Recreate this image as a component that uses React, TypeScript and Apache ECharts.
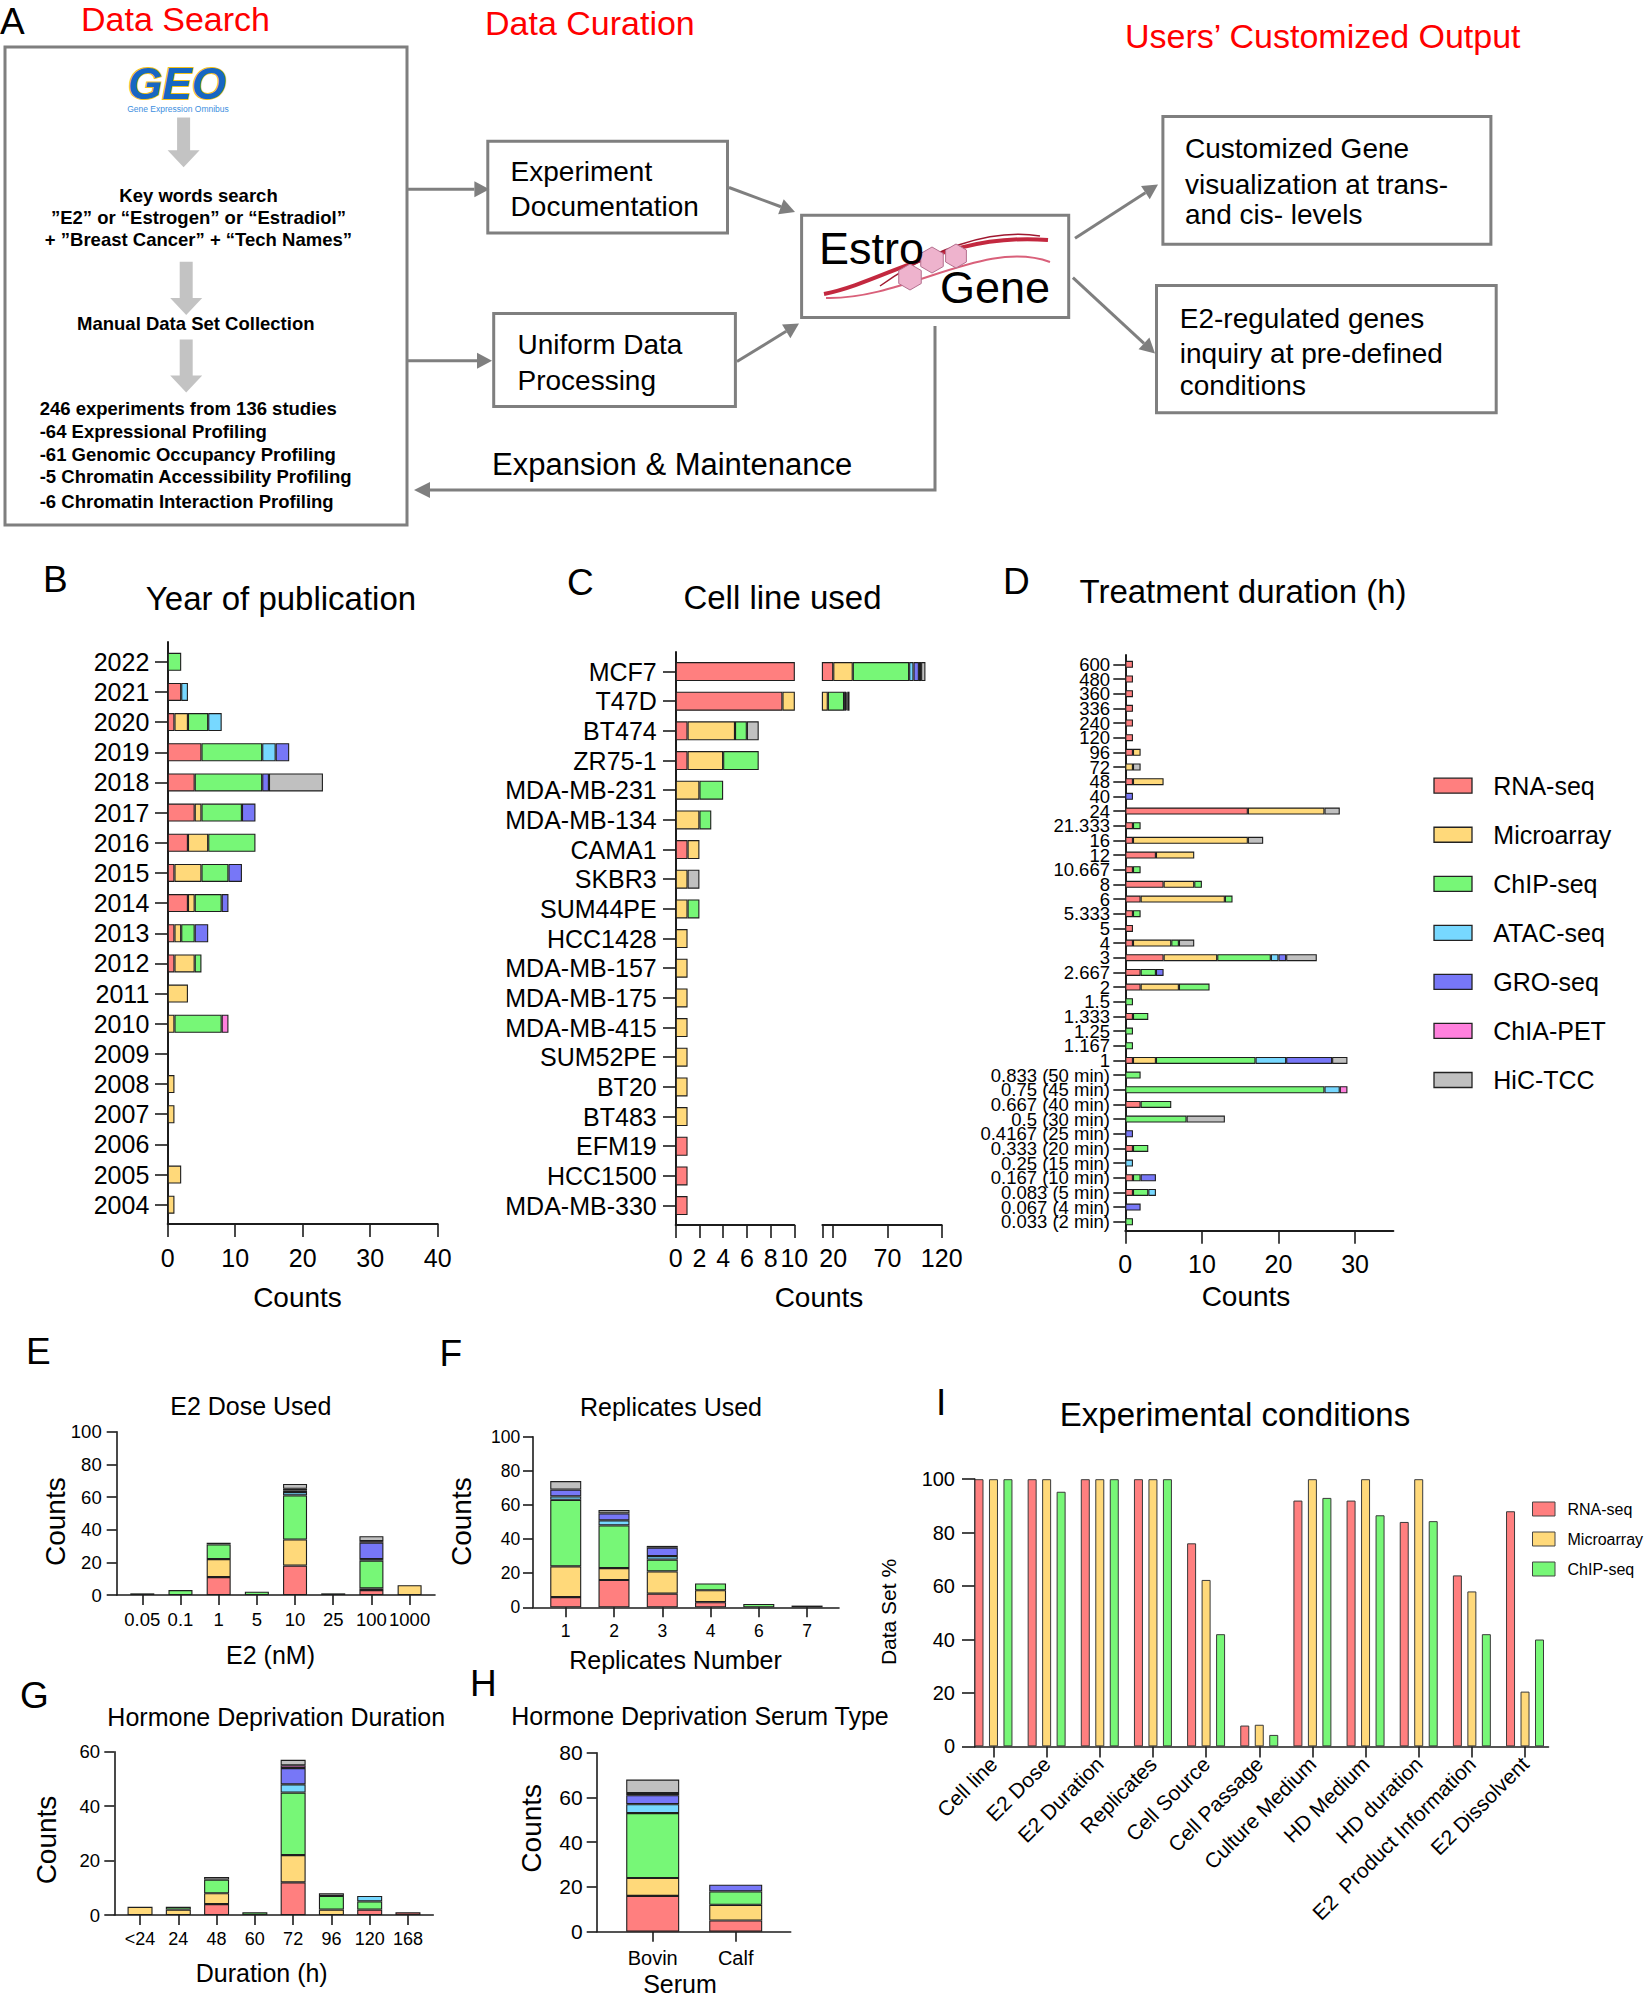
import React, { useEffect, useRef } from 'react';
import * as echarts from 'echarts';

const FONT = '"Liberation Sans", Arial, Helvetica, sans-serif';
const AX = '#1c1c1c';

const techNames = ['RNA-seq', 'Microarray', 'ChIP-seq', 'ATAC-seq', 'GRO-seq', 'ChIA-PET', 'HiC-TCC'];
const techColors = ['#FF7F7F', '#FFD97A', '#77F777', '#77D8FF', '#7777F7', '#FF80DD', '#C0C0C0'];

// ---------- Panel B: year of publication ----------
const pubYears = ['2022', '2021', '2020', '2019', '2018', '2017', '2016', '2015', '2014', '2013', '2012', '2011', '2010', '2009', '2008', '2007', '2006', '2005', '2004'];
const yearRNA = [0, 2, 1, 5, 4, 4, 3, 1, 3, 1, 1, 0, 0, 0, 0, 0, 0, 0, 0];
const yearMicro = [0, 0, 2, 0, 0, 1, 3, 4, 1, 1, 3, 3, 1, 0, 1, 1, 0, 2, 1];
const yearChIP = [2, 0, 3, 9, 10, 6, 7, 4, 4, 2, 1, 0, 7, 0, 0, 0, 0, 0, 0];
const yearATAC = [0, 1, 2, 2, 0, 0, 0, 0, 0, 0, 0, 0, 0, 0, 0, 0, 0, 0, 0];
const yearGRO = [0, 0, 0, 2, 1, 2, 0, 2, 1, 2, 0, 0, 0, 0, 0, 0, 0, 0, 0];
const yearChIA = [0, 0, 0, 0, 0, 0, 0, 0, 0, 0, 0, 0, 1, 0, 0, 0, 0, 0, 0];
const yearHiC = [0, 0, 0, 0, 8, 0, 0, 0, 0, 0, 0, 0, 0, 0, 0, 0, 0, 0, 0];

// ---------- Panel C: cell line used ----------
const cellLines = ['MCF7', 'T47D', 'BT474', 'ZR75-1', 'MDA-MB-231', 'MDA-MB-134', 'CAMA1', 'SKBR3', 'SUM44PE', 'HCC1428', 'MDA-MB-157', 'MDA-MB-175', 'MDA-MB-415', 'SUM52PE', 'BT20', 'BT483', 'EFM19', 'HCC1500', 'MDA-MB-330'];
const cellRNA = [20, 9, 1, 1, 0, 0, 1, 0, 0, 0, 0, 0, 0, 0, 0, 0, 1, 1, 1];
const cellMicro = [18, 6, 4, 3, 2, 2, 1, 1, 1, 1, 1, 1, 1, 1, 1, 1, 0, 0, 0];
const cellChIP = [52, 15, 1, 3, 2, 1, 0, 0, 1, 0, 0, 0, 0, 0, 0, 0, 0, 0, 0];
const cellATAC = [4, 0, 0, 0, 0, 0, 0, 0, 0, 0, 0, 0, 0, 0, 0, 0, 0, 0, 0];
const cellGRO = [5, 2, 0, 0, 0, 0, 0, 0, 0, 0, 0, 0, 0, 0, 0, 0, 0, 0, 0];
const cellChIA = [2, 1, 0, 0, 0, 0, 0, 0, 0, 0, 0, 0, 0, 0, 0, 0, 0, 0, 0];
const cellHiC = [4, 2, 1, 0, 0, 0, 0, 1, 0, 0, 0, 0, 0, 0, 0, 0, 0, 0, 0];
const cellLeftTicks = [0, 2, 4, 6, 8, 10];
const cellRightTicks = [20, 70, 120];

// ---------- Panel D: treatment duration ----------
const durations = ['600', '480', '360', '336', '240', '120', '96', '72', '48', '40',
  '24', '21.333', '16', '12', '10.667', '8', '6', '5.333', '5', '4',
  '3', '2.667', '2', '1.5', '1.333', '1.25', '1.167', '1', '0.833 (50 min)', '0.75 (45 min)',
  '0.667 (40 min)', '0.5 (30 min)', '0.4167 (25 min)', '0.333 (20 min)', '0.25 (15 min)', '0.167 (10 min)', '0.083 (5 min)', '0.067 (4 min)', '0.033 (2 min)'];
const durRNA = [1, 1, 1, 1, 1, 1, 1, 0, 1, 0, 16, 1, 1, 4, 1, 5, 2, 1, 1, 1, 5, 2, 2, 0, 1, 0, 0, 1, 0, 0, 2, 0, 0, 1, 0, 1, 1, 0, 0];
const durMicro = [0, 0, 0, 0, 0, 0, 1, 1, 4, 0, 10, 0, 15, 5, 0, 4, 11, 0, 0, 5, 7, 0, 5, 0, 0, 0, 0, 3, 0, 0, 0, 0, 0, 0, 0, 0, 0, 0, 0];
const durChIP = [0, 0, 0, 0, 0, 0, 0, 0, 0, 0, 0, 1, 0, 0, 1, 1, 1, 1, 0, 1, 7, 2, 4, 1, 2, 1, 1, 13, 2, 26, 4, 8, 0, 2, 0, 1, 2, 0, 1];
const durATAC = [0, 0, 0, 0, 0, 0, 0, 0, 0, 0, 0, 0, 0, 0, 0, 0, 0, 0, 0, 0, 1, 0, 0, 0, 0, 0, 0, 4, 0, 2, 0, 0, 0, 0, 1, 0, 1, 0, 0];
const durGRO = [0, 0, 0, 0, 0, 0, 0, 0, 0, 1, 0, 0, 0, 0, 0, 0, 0, 0, 0, 0, 1, 1, 0, 0, 0, 0, 0, 6, 0, 0, 0, 0, 1, 0, 0, 2, 0, 2, 0];
const durChIA = [0, 0, 0, 0, 0, 0, 0, 0, 0, 0, 0, 0, 0, 0, 0, 0, 0, 0, 0, 0, 0, 0, 0, 0, 0, 0, 0, 0, 0, 1, 0, 0, 0, 0, 0, 0, 0, 0, 0];
const durHiC = [0, 0, 0, 0, 0, 0, 0, 1, 0, 0, 2, 0, 2, 0, 0, 0, 0, 0, 0, 2, 4, 0, 0, 0, 0, 0, 0, 2, 0, 0, 0, 5, 0, 0, 0, 0, 0, 0, 0];
const durTicks = [0, 10, 20, 30];

// ---------- Panel E: E2 dose ----------
const doses = ['0.05', '0.1', '1', '5', '10', '25', '100', '1000'];
const doseRNA = [0, 0, 11, 0, 18, 0, 3, 0];
const doseMicro = [0, 0, 11, 0, 16, 0, 1, 6];
const doseChIP = [1, 3, 9, 2, 27, 1, 17, 0];
const doseATAC = [0, 0, 0, 0, 2, 0, 1, 0];
const doseGRO = [0, 0, 1, 0, 1, 0, 10, 0];
const doseChIA = [0, 0, 0, 0, 1, 0, 1, 0];
const doseHiC = [0, 0, 0, 0, 3, 0, 3, 0];

// ---------- Panel F: replicates ----------
const replicates = ['1', '2', '3', '4', '6', '7'];
const repRNA = [6, 16, 8, 3, 0, 0];
const repMicro = [18, 7, 13, 7, 0, 0];
const repChIP = [39, 25, 7, 4, 2, 1];
const repATAC = [2, 3, 2, 0, 0, 0];
const repGRO = [4, 4, 5, 0, 0, 0];
const repChIA = [0, 0, 1, 0, 0, 0];
const repHiC = [5, 2, 0, 0, 0, 0];

// ---------- Panel G: hormone deprivation duration ----------
const hdDurations = ['<24', '24', '48', '60', '72', '96', '120', '168'];
const hdRNA = [0, 0, 4, 0, 12, 0, 2, 1];
const hdMicro = [3, 2, 4, 0, 10, 2, 0, 0];
const hdChIP = [0, 1, 5, 1, 23, 5, 3, 0];
const hdATAC = [0, 0, 0, 0, 3, 0, 2, 0];
const hdGRO = [0, 0, 0, 0, 6, 0, 0, 0];
const hdChIA = [0, 0, 0, 0, 1, 0, 0, 0];
const hdHiC = [0, 0, 1, 0, 2, 1, 0, 0];

// ---------- Panel H: serum type ----------
const serumTypes = ['Bovin', 'Calf'];
const serumRNA = [16, 5];
const serumMicro = [8, 7];
const serumChIP = [29, 6];
const serumATAC = [4, 0];
const serumGRO = [4, 3];
const serumChIA = [1, 0];
const serumHiC = [6, 0];

// ---------- Panel I: experimental conditions ----------
const conditions = ['Cell line', 'E2 Dose', 'E2 Duration', 'Replicates', 'Cell Source', 'Cell Passage', 'Culture Medium', 'HD Medium', 'HD duration', 'E2  Product Information', 'E2 Dissolvent'];
const condRNA = [100, 100, 100, 100, 76, 7.8, 92, 92, 84, 64, 88];
const condMicro = [100, 100, 100, 100, 62.3, 8.1, 100, 100, 100, 58, 20.5];
const condChIP = [100, 95.3, 100, 100, 42, 4.3, 93, 86.5, 84.3, 42, 40];

function buildOption() {
  const grids: any[] = [];
  const xAxes: any[] = [];
  const yAxes: any[] = [];
  const series: any[] = [];
  const G: any[] = [];

  const tk = (length: number, extra: any = {}) => ({ show: true, length, lineStyle: { color: AX, width: 1.6 }, ...extra });
  const lab = (size: number, margin: number, extra: any = {}) => ({ fontSize: size, margin, color: '#000', fontFamily: FONT, ...extra });
  const noLine = { show: false, onZero: false };

  const addGrid = (l: number, t: number, w: number, h: number) => {
    grids.push({ left: l, top: t, width: w, height: h, containLabel: false, outerBoundsMode: 'none' });
    return grids.length - 1;
  };
  const addFrame = (l: number, t: number, w: number, h: number, showX: boolean, showY: boolean, lw: number) => {
    const g = addGrid(l, t, w, h);
    const base = { gridIndex: g, type: 'value', min: 0, max: 1, axisTick: { show: false }, axisLabel: { show: false }, splitLine: { show: false }, silent: true };
    xAxes.push({ ...base, axisLine: { show: showX, onZero: false, lineStyle: { color: AX, width: lw } } });
    yAxes.push({ ...base, axisLine: { show: showY, onZero: false, lineStyle: { color: AX, width: lw } } });
  };
  const addStack = (id: string, rows: number[][], g: number, barWidth: number) => {
    rows.forEach((row, t) => series.push({
      type: 'bar', name: techNames[t], stack: id, xAxisIndex: g, yAxisIndex: g, barWidth,
      data: row.map((v) => (v ? v : null)), clip: true, silent: true,
      itemStyle: { color: techColors[t], borderColor: '#1e1e1e', borderWidth: 1.1 },
    }));
  };
  const catH = (g: number, data: string[], size: number, margin: number, tickLen: number, extra: any = {}) => ({
    gridIndex: g, type: 'category', data, inverse: true, axisLine: noLine,
    axisTick: tk(tickLen, { alignWithLabel: true }), axisLabel: lab(size, margin, { interval: 0 }), ...extra,
  });

  // ----- B -----
  let g = addGrid(167.7, 646.7, 270, 573.1);
  xAxes.push({ gridIndex: g, type: 'value', min: 0, max: 40, interval: 10, offset: 4.2, axisLine: noLine, axisTick: tk(13), axisLabel: lab(25, 21.5), splitLine: { show: false } });
  yAxes.push(catH(g, pubYears, 25, 18.4, 12.7));
  addStack('B', [yearRNA, yearMicro, yearChIP, yearATAC, yearGRO, yearChIA, yearHiC], g, 18);
  addFrame(167.7, 642, 270, 582, true, true, 2);

  // ----- C (broken axis) -----
  const cellRows = [cellRNA, cellMicro, cellChIP, cellATAC, cellGRO, cellChIA, cellHiC];
  g = addGrid(675.7, 656.7, 118.6, 563.7);
  xAxes.push({ gridIndex: g, type: 'value', min: 0, max: 10, offset: 4.6, axisLine: noLine,
    axisTick: tk(13, { customValues: cellLeftTicks }), axisLabel: lab(25, 20.5, { customValues: cellLeftTicks }), splitLine: { show: false } });
  yAxes.push(catH(g, cellLines, 25, 19, 12.7));
  addStack('CL', cellRows, g, 19);
  g = addGrid(822.4, 656.7, 119.3, 563.7);
  xAxes.push({ gridIndex: g, type: 'value', min: 10, max: 120, offset: 4.6, axisLine: noLine,
    axisTick: tk(13, { customValues: [10, ...cellRightTicks] }), axisLabel: lab(25, 20.5, { customValues: cellRightTicks }), splitLine: { show: false } });
  yAxes.push({ gridIndex: g, type: 'category', data: cellLines, inverse: true, show: false });
  addStack('CR', cellRows, g, 19);
  addFrame(675.7, 652, 118.6, 573, true, true, 2);
  addFrame(822.4, 652, 119.3, 573, true, false, 2);

  // ----- D -----
  g = addGrid(1125.3, 657, 268.1, 572.1);
  xAxes.push({ gridIndex: g, type: 'value', min: 0, max: 35, offset: 1.6, axisLine: noLine,
    axisTick: tk(13, { customValues: durTicks }), axisLabel: lab(25, 20.8, { customValues: durTicks }), splitLine: { show: false } });
  yAxes.push(catH(g, durations, 18.5, 15.3, 12));
  addStack('D', [durRNA, durMicro, durChIP, durATAC, durGRO, durChIA, durHiC], g, 7);
  addFrame(1125.3, 655, 268.1, 575.7, true, true, 2);

  // ----- vertical stacked panels -----
  const vPanel = (id: string, rect: number[], frameLeft: number, frameRight: number, cats: string[], max: number,
    ySize: number, yMargin: number, xSize: number, xMargin: number, rows: number[][], bw: number) => {
    const gg = addGrid(rect[0], rect[1], rect[2], rect[3]);
    xAxes.push({ gridIndex: gg, type: 'category', data: cats, axisLine: noLine, axisTick: tk(10, { alignWithLabel: true }), axisLabel: lab(xSize, xMargin, { interval: 0 }) });
    yAxes.push({ gridIndex: gg, type: 'value', min: 0, max, interval: 20, offset: rect[0] - frameLeft, axisLine: noLine, axisTick: tk(10), axisLabel: lab(ySize, yMargin), splitLine: { show: false } });
    addStack(id, rows, gg, bw);
    addFrame(frameLeft, rect[1], frameRight - frameLeft, rect[3], true, true, 1.6);
  };
  vPanel('E', [123.2, 1431.7, 305.5, 163.3], 116.7, 435, doses, 100, 18.5, 15, 18.5, 15.3,
    [doseRNA, doseMicro, doseChIP, doseATAC, doseGRO, doseChIA, doseHiC], 24);
  vPanel('F', [541.6, 1436.7, 289.6, 170.6], 533, 839, replicates, 100, 17.5, 12.7, 17.5, 15,
    [repRNA, repMicro, repChIP, repATAC, repGRO, repChIA, repHiC], 31);
  vPanel('G', [120.9, 1751.7, 306.2, 163.3], 114.3, 433.3, hdDurations, 60, 18.5, 14.3, 18, 15.3,
    [hdRNA, hdMicro, hdChIP, hdATAC, hdGRO, hdChIA, hdHiC], 25);
  vPanel('H', [611.2, 1752.7, 166, 179], 596.7, 790.7, serumTypes, 80, 21, 14, 20, 16,
    [serumRNA, serumMicro, serumChIP, serumATAC, serumGRO, serumChIA, serumHiC], 53);

  // ----- I -----
  g = addGrid(966.9, 1479.2, 584.7, 267.2);
  xAxes.push({ gridIndex: g, type: 'category', data: conditions, axisLine: noLine, axisTick: tk(11, { alignWithLabel: true }), axisLabel: lab(21, 14, { interval: 0, rotate: 45 }) });
  yAxes.push({ gridIndex: g, type: 'value', min: 0, max: 100, interval: 20, offset: 966.9 - 975, axisLine: noLine, axisTick: tk(13), axisLabel: lab(20, 20), splitLine: { show: false } });
  [condRNA, condMicro, condChIP].forEach((row, t) => series.push({
    type: 'bar', name: techNames[t], xAxisIndex: g, yAxisIndex: g, data: row, barWidth: 9, barGap: '61%', silent: true,
    itemStyle: { color: techColors[t], borderColor: '#3a3a3a', borderWidth: 1 },
  }));
  addFrame(975, 1479.2, 573.5, 267.2, true, true, 1.6);

  // ---------- graphics ----------
  const txt = (text: string, x: number, y: number, size: number, o: any = {}) => {
    const style: any = { text, fontSize: size, fontFamily: FONT, fontWeight: o.weight || 'normal', fontStyle: o.italic ? 'italic' : 'normal', fill: o.fill || '#000', align: o.align || 'left', verticalAlign: 'middle' };
    if (o.stroke) { style.stroke = o.stroke; style.lineWidth = o.lw || 1; }
    return { type: 'text', x, y, rotation: o.rot || 0, silent: true, z: 20, style };
  };
  const box = (x: number, y: number, w: number, h: number) => ({ type: 'rect', silent: true, z: 5, shape: { x, y, width: w, height: h }, style: { fill: 'none', stroke: '#7f7f7f', lineWidth: 3 } });
  const arrow = (x1: number, y1: number, x2: number, y2: number) => {
    const a = Math.atan2(y2 - y1, x2 - x1);
    const hl = 15, hw = 8;
    const bx = x2 - hl * Math.cos(a), by = y2 - hl * Math.sin(a);
    const px = -Math.sin(a) * hw, py = Math.cos(a) * hw;
    return [
      { type: 'line', silent: true, z: 5, shape: { x1, y1, x2: bx, y2: by }, style: { stroke: '#7f7f7f', lineWidth: 3 } },
      { type: 'polygon', silent: true, z: 5, shape: { points: [[x2, y2], [bx + px, by + py], [bx - px, by - py]] }, style: { fill: '#7f7f7f' } },
    ];
  };
  const fatDown = (cx: number, y0: number, y1: number) => ({
    type: 'polygon', silent: true, z: 5,
    shape: { points: [[cx - 6.5, y0], [cx + 6.5, y0], [cx + 6.5, y1 - 17], [cx + 16, y1 - 17], [cx, y1], [cx - 16, y1 - 17], [cx - 6.5, y1 - 17]] },
    style: { fill: '#c3c3c3' },
  });
  const hex = (cx: number, cy: number, r: number) => ({
    type: 'polygon', silent: true, z: 6,
    shape: { points: [0, 1, 2, 3, 4, 5].map((i) => [cx + r * Math.cos((Math.PI / 3) * i + Math.PI / 6), cy + r * Math.sin((Math.PI / 3) * i + Math.PI / 6)]) },
    style: { fill: '#eeb3cd', stroke: '#b4708f', lineWidth: 1 },
  });

  // Panel A
  G.push(txt('A', 0, 21, 37));
  G.push(txt('Data Search', 81, 19, 34, { fill: '#ff0000' }));
  G.push(txt('Data Curation', 485, 23, 34, { fill: '#ff0000' }));
  G.push(txt('Users\u2019 Customized Output', 1125, 36, 34, { fill: '#ff0000' }));
  G.push(box(5, 47, 402, 478));
  G.push(txt('GEO', 177, 83, 44, { align: 'center', weight: 'bold', italic: true, fill: '#1766c2', stroke: '#f2c21a', lw: 2 }));
  G.push(txt('Gene Expression Omnibus', 178, 108.8, 8.5, { align: 'center', fill: '#3d8fe0' }));
  G.push(fatDown(183.6, 117.6, 167.2));
  G.push(fatDown(186.2, 261.8, 315));
  G.push(fatDown(186.2, 339.5, 392.6));
  const bold = { align: 'center', weight: 'bold' };
  G.push(txt('Key words search', 198.5, 195.3, 18.5, bold));
  G.push(txt('\u201dE2\u201d or \u201cEstrogen\u201d or \u201cEstradiol\u201d', 198.4, 217.9, 18.5, bold));
  G.push(txt('+ \u201dBreast Cancer\u201d + \u201cTech Names\u201d', 198.4, 239.2, 18.5, bold));
  G.push(txt('Manual Data Set Collection', 195.8, 323.3, 18.5, bold));
  const listLines = ['246 experiments from 136 studies', '-64 Expressional Profiling', '-61 Genomic Occupancy Profiling', '-5 Chromatin Accessibility Profiling', '-6 Chromatin Interaction Profiling'];
  const listY = [408.8, 431.8, 454.4, 476.4, 501.7];
  listLines.forEach((s, i) => G.push(txt(s, 39.7, listY[i], 18.5, { weight: 'bold' })));

  G.push(box(487.8, 141.2, 239.7, 91.9));
  G.push(txt('Experiment', 510.6, 171.6, 28));
  G.push(txt('Documentation', 510.6, 206, 28));
  G.push(box(493.7, 313.5, 241.7, 92.9));
  G.push(txt('Uniform Data', 517.5, 344.6, 28));
  G.push(txt('Processing', 517.5, 380, 28));
  G.push(...arrow(407.4, 189.2, 489.4, 189.2));
  G.push(...arrow(407.4, 360.8, 492, 360.8));
  G.push(...arrow(729, 187.5, 795, 212));
  G.push(...arrow(737, 361.5, 799, 323.5));

  // EstroGene logo box
  G.push(box(801.6, 215.2, 267.1, 102.4));
  G.push({ type: 'bezierCurve', silent: true, z: 6, shape: { x1: 824, y1: 294, cpx1: 885, cpy1: 282, cpx2: 950, cpy2: 232, x2: 1048, y2: 240 }, style: { stroke: '#c3283f', lineWidth: 4, fill: 'none' } });
  G.push({ type: 'bezierCurve', silent: true, z: 6, shape: { x1: 826, y1: 298, cpx1: 905, cpy1: 300, cpx2: 985, cpy2: 238, x2: 1050, y2: 262 }, style: { stroke: '#d9607a', lineWidth: 2, fill: 'none' } });
  G.push({ type: 'bezierCurve', silent: true, z: 6, shape: { x1: 880, y1: 286, cpx1: 930, cpy1: 250, cpx2: 990, cpy2: 228, x2: 1040, y2: 236 }, style: { stroke: '#a01830', lineWidth: 1.5, fill: 'none' } });
  G.push(hex(910, 277, 13));
  G.push(hex(932, 260, 13));
  G.push(hex(956, 256, 12));
  G.push(txt('Estro', 819, 248, 45));
  G.push(txt('Gene', 940, 287, 45));

  G.push({ type: 'polyline', silent: true, z: 5, shape: { points: [[935, 326], [935, 490], [428, 490]] }, style: { stroke: '#7f7f7f', lineWidth: 3, fill: 'none' } });
  G.push({ type: 'polygon', silent: true, z: 5, shape: { points: [[414, 490], [430, 482], [430, 498]] }, style: { fill: '#7f7f7f' } });
  G.push(txt('Expansion & Maintenance', 492, 464.5, 31));

  G.push(...arrow(1075, 238.2, 1158, 184.5));
  G.push(...arrow(1072.9, 277.7, 1155, 353.5));
  G.push(box(1162.9, 116.6, 328, 127.7));
  G.push(txt('Customized Gene', 1185, 148, 28));
  G.push(txt('visualization at trans-', 1185, 184.1, 28));
  G.push(txt('and cis- levels', 1185, 214.5, 28));
  G.push(box(1156.5, 285.5, 339.7, 127.3));
  G.push(txt('E2-regulated genes', 1179.8, 318.2, 28));
  G.push(txt('inquiry at pre-defined', 1179.8, 353, 28));
  G.push(txt('conditions', 1179.8, 385.1, 28));

  // Panel letters
  G.push(txt('B', 43, 579, 37));
  G.push(txt('C', 567, 582, 37));
  G.push(txt('D', 1003, 581.7, 37));
  G.push(txt('E', 26, 1351.5, 37));
  G.push(txt('F', 439.5, 1353, 37));
  G.push(txt('G', 20, 1695, 37));
  G.push(txt('H', 470, 1683, 37));
  G.push(txt('I', 936, 1402, 37));

  // Titles
  const c = { align: 'center' };
  G.push(txt('Year of publication', 281, 598.8, 33, c));
  G.push(txt('Cell line used', 782.5, 597.8, 33, c));
  G.push(txt('Treatment duration (h)', 1243, 591.7, 33, c));
  G.push(txt('Experimental conditions', 1235, 1414, 33, c));
  G.push(txt('E2 Dose Used', 250.8, 1406, 25, c));
  G.push(txt('Replicates Used', 671, 1406.7, 25, c));
  G.push(txt('Hormone Deprivation Duration', 276.2, 1717.3, 25, c));
  G.push(txt('Hormone Deprivation Serum Type', 700, 1716, 25, c));

  // Axis names
  G.push(txt('Counts', 297.5, 1297, 28, c));
  G.push(txt('Counts', 819, 1297, 28, c));
  G.push(txt('Counts', 1246, 1296.7, 28, c));
  G.push(txt('E2 (nM)', 270.5, 1655, 25, c));
  G.push(txt('Replicates Number', 675.5, 1660, 25, c));
  G.push(txt('Duration (h)', 261.7, 1973.3, 25, c));
  G.push(txt('Serum', 680, 1984, 25, c));
  const rot = { align: 'center', rot: Math.PI / 2 };
  G.push(txt('Counts', 55.8, 1521.7, 28, rot));
  G.push(txt('Counts', 461.3, 1521.7, 28, rot));
  G.push(txt('Counts', 46.7, 1840, 28, rot));
  G.push(txt('Counts', 531.7, 1828.3, 28, rot));
  G.push(txt('Data Set %', 888.5, 1612, 21, rot));

  // Legend for B-H
  techNames.forEach((n, i) => {
    const cy = 785.7 + i * 49.05;
    G.push({ type: 'rect', silent: true, z: 5, shape: { x: 1434, y: cy - 7.5, width: 38, height: 15 }, style: { fill: techColors[i], stroke: '#222', lineWidth: 1.3 } });
    G.push(txt(n, 1493.3, cy, 25));
  });
  // Legend for I
  techNames.slice(0, 3).forEach((n, i) => {
    const cy = 1509 + i * 30;
    G.push({ type: 'rect', silent: true, z: 5, shape: { x: 1532.5, y: cy - 7, width: 22.5, height: 14 }, style: { fill: techColors[i], stroke: '#444', lineWidth: 1 } });
    G.push(txt(n, 1567.5, cy, 16));
  });

  return {
    animation: false,
    backgroundColor: '#ffffff',
    textStyle: { fontFamily: FONT },
    grid: grids,
    xAxis: xAxes,
    yAxis: yAxes,
    series,
    graphic: { elements: G },
  };
}

export default function App() {
  const ref = useRef<HTMLDivElement>(null);
  useEffect(() => {
    const chart = echarts.init(ref.current as HTMLDivElement, null, { renderer: 'svg' });
    chart.setOption(buildOption() as any);
    return () => chart.dispose();
  }, []);
  return <div ref={ref} style={{ position: 'absolute', left: 0, top: 0, width: 1650, height: 1998, background: '#fff' }} />;
}
